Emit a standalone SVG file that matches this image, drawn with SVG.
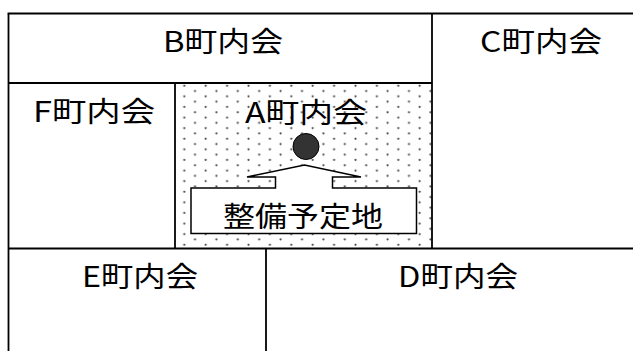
<svg xmlns="http://www.w3.org/2000/svg" width="633" height="351" viewBox="0 0 633 351">
<defs>
<pattern id="dots" x="175" y="83" width="21.4" height="10.6" patternUnits="userSpaceOnUse">
<circle cx="9.3" cy="2.7" r="1.1" fill="#444"/>
<circle cx="20" cy="8" r="1.1" fill="#444"/>
<circle cx="-1.4" cy="8" r="1.1" fill="#444"/>
</pattern>
<style>
.ln{stroke:#000;stroke-width:1.8;fill:none}
.lbl{font-family:"Noto Sans CJK JP","Noto Sans",sans-serif;font-size:28px;fill:#000;text-anchor:start}
</style>
</defs>
<rect width="633" height="351" fill="#fff"/>
<g id="area-A">
<rect x="175" y="83" width="257" height="165" fill="url(#dots)"/>
<text class="lbl" x="245" y="123" textLength="122" lengthAdjust="spacingAndGlyphs">A町内会</text>
<circle cx="306" cy="146.5" r="13" fill="#333" stroke="#000" stroke-width="1"/>
</g>
<g id="site">
<path d="M191 188 H275.5 V177 H247 L304.5 165 L361 177 H332.5 V188 H416.5 V233.5 H191 Z" fill="#fff" stroke="#000" stroke-width="1.5"/>
<text class="lbl" x="223" y="227" textLength="160" lengthAdjust="spacingAndGlyphs" font-size="30">整備予定地</text>
</g>
<g id="area-B"><text class="lbl" x="163" y="52" textLength="120" lengthAdjust="spacingAndGlyphs">B町内会</text></g>
<g id="area-C"><text class="lbl" x="480" y="52" textLength="122" lengthAdjust="spacingAndGlyphs">C町内会</text></g>
<g id="area-F"><text class="lbl" x="33" y="122" textLength="122" lengthAdjust="spacingAndGlyphs">F町内会</text></g>
<g id="area-E"><text class="lbl" x="82" y="287" textLength="116" lengthAdjust="spacingAndGlyphs">E町内会</text></g>
<g id="area-D"><text class="lbl" x="398" y="287" textLength="120" lengthAdjust="spacingAndGlyphs">D町内会</text></g>
<g id="borders">
<line class="ln" x1="7.6" y1="13.5" x2="633" y2="13.5"/>
<line class="ln" x1="8.5" y1="13.5" x2="8.5" y2="351"/>
<line class="ln" x1="8.5" y1="83" x2="432" y2="83"/>
<line class="ln" x1="432" y1="13.5" x2="432" y2="248.5"/>
<line class="ln" x1="175" y1="83" x2="175" y2="248.5"/>
<line class="ln" x1="8.5" y1="248.5" x2="633" y2="248.5"/>
<line class="ln" x1="266" y1="248.5" x2="266" y2="351"/>
</g>
</svg>
